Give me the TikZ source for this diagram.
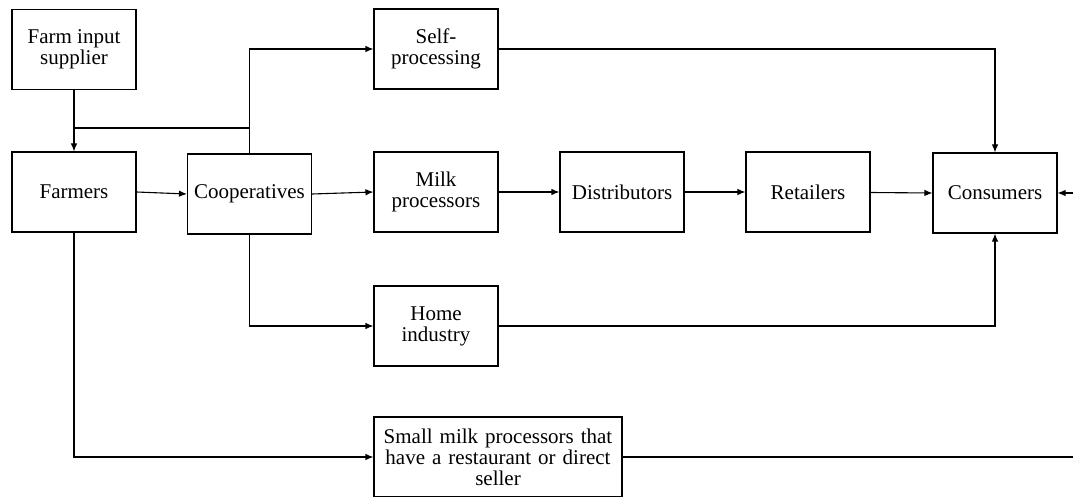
\documentclass[tikz,border=0pt]{standalone}
\usepackage{fontspec}
\setmainfont{Liberation Serif}
\usetikzlibrary{arrows.meta}
\begin{document}
\begin{tikzpicture}[x=1pt,y=-1pt,
  box/.style={draw, line width=1.1pt, minimum width=124pt, minimum height=80pt, inner sep=0pt, align=center, font=\fontsize{21}{21}\selectfont},
  conn/.style={line width=1.1pt, -{Latex[length=8pt,width=6.5pt]}},
  plain/.style={line width=1.1pt}]
\useasboundingbox (0,0) rectangle (1073,497);
\clip (0,0) rectangle (1073,497);
\node[box] (fis) at (74,49.5) {Farm input\\supplier};
\node[box] (farm) at (74,192) {Farmers};
\node[box] (coop) at (249.5,194) {Cooperatives};
\node[box] (self) at (436,49) {Self-\\processing};
\node[box] (milk) at (436,192) {Milk\\processors};
\node[box] (dist) at (622,192) {Distributors};
\node[box] (ret) at (808,192) {Retailers};
\node[box] (cons) at (995,193) {Consumers};
\node[box] (home) at (436,326) {Home\\industry};
\node[box, minimum width=248pt, text width=240pt] (small) at (498,457) {Small milk processors that\\have a restaurant or direct\\seller};
\coordinate (j1) at (74,128);
\coordinate (j2) at (249.5,128);
\coordinate (off) at (1100,457);
\draw[conn] (fis) -- (farm);
\draw[plain] (j1) -- (j2);
\draw[conn] (coop.north) |- (self.west);
\draw[conn] (farm.east) -- (coop.west);
\draw[conn] (coop.east) -- (milk.west);
\draw[conn] (milk) -- (dist);
\draw[conn] (dist) -- (ret);
\draw[conn] (ret) -- (cons.west);
\draw[conn] (self.east) -| (cons.north);
\draw[conn] (coop.south) |- (home.west);
\draw[conn] (home.east) -| (cons.south);
\draw[conn] (farm.south) |- (small.west);
\draw[conn] (small.east) -- (off) |- (cons.east);
\end{tikzpicture}
\end{document}
